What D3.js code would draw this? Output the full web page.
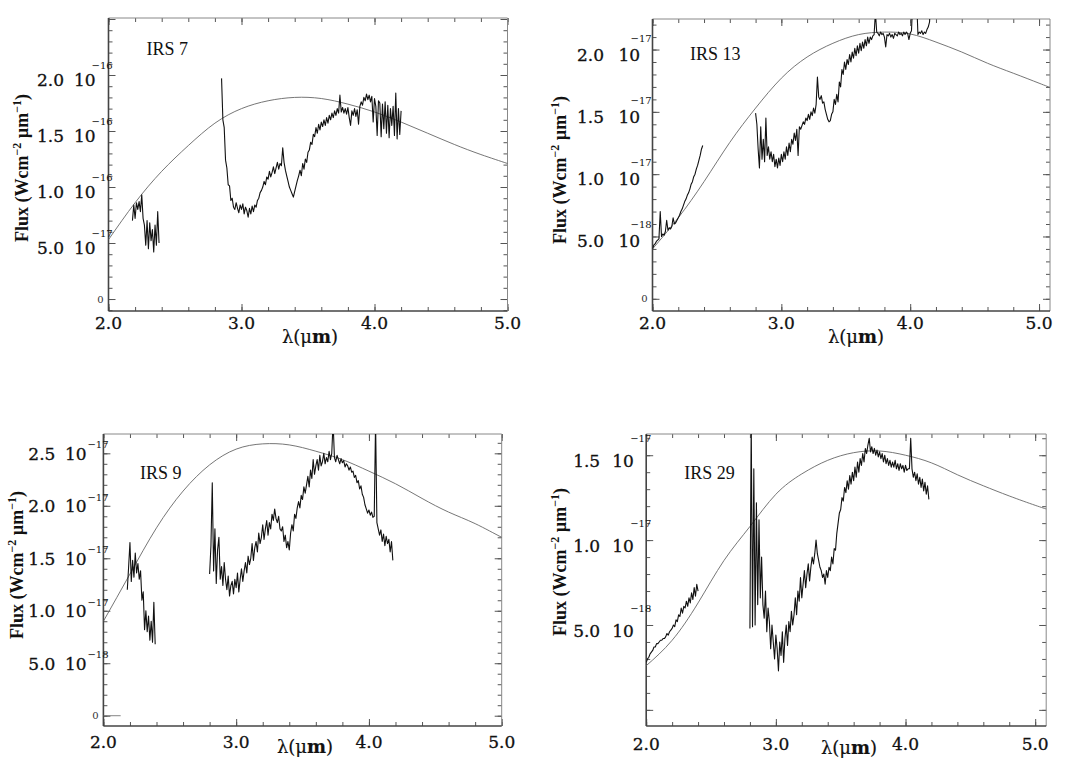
<!DOCTYPE html>
<html>
<head>
<meta charset="utf-8">
<script src="https://cdn.jsdelivr.net/npm/d3@7"></script>
<style>
  body { margin: 0; background: #fff; }
  svg { display: block; }
</style>
</head>
<body>
<svg id="chart" width="1079" height="774"></svg>
<script>
// ---- data (flux in units of 1e-16 for IRS 7, 1e-17 for the others) ----
const step = 0.01;
const modelWave = [2.0, 2.2, 2.4, 2.6, 2.8, 3.0, 3.2, 3.4, 3.6, 3.8, 4.0, 4.2, 4.4, 4.6, 4.8, 5.0, 5.1];

const irs7Model = [0.53, 0.86, 1.14, 1.37, 1.57, 1.70, 1.77, 1.80, 1.79, 1.74, 1.67, 1.58, 1.48, 1.38, 1.29, 1.21, 1.17];
const irs7AStart = 2.18;
const irs7A = [0.70, 0.84, 0.72, 0.86, 0.80, 0.87, 0.78, 0.93, 0.72, 0.66, 0.48, 0.70, 0.45, 0.68, 0.52, 0.62, 0.42, 0.66, 0.48, 0.78, 0.50];
const irs7BStart = 2.85;
const irs7B = [1.97, 1.60, 1.53, 1.24, 1.17, 1.02, 1.01, 0.88, 0.90, 0.82,
  0.80, 0.86, 0.81, 0.77, 0.84, 0.80, 0.85, 0.76, 0.82, 0.79,
  0.73, 0.81, 0.76, 0.83, 0.78, 0.84, 0.82, 0.88, 0.90, 0.95,
  0.97, 1.00, 1.05, 1.02, 1.09, 1.07, 1.14, 1.09, 1.13, 1.18,
  1.12, 1.17, 1.22, 1.16, 1.21, 1.19, 1.35, 1.22, 1.15, 1.10,
  1.05, 1.00, 0.97, 0.94, 0.91, 0.96, 1.01, 1.06, 1.10, 1.15,
  1.10, 1.21, 1.16, 1.25, 1.22, 1.31, 1.33, 1.40, 1.38, 1.47,
  1.45, 1.53, 1.48, 1.56, 1.51, 1.58, 1.54, 1.60, 1.55, 1.62,
  1.57, 1.64, 1.60, 1.66, 1.62, 1.68, 1.64, 1.70, 1.66, 1.82,
  1.67, 1.71, 1.66, 1.70, 1.65, 1.71, 1.62, 1.55, 1.68, 1.64,
  1.70, 1.63, 1.69, 1.56, 1.72, 1.76, 1.73, 1.80, 1.77, 1.83,
  1.78, 1.82, 1.76, 1.81, 1.58, 1.79, 1.72, 1.46, 1.77, 1.75,
  1.45, 1.74, 1.52, 1.76, 1.48, 1.73, 1.44, 1.70, 1.55, 1.72,
  1.46, 1.84, 1.43, 1.70, 1.47, 1.68];

const irs13Model = [0.40, 0.65, 0.94, 1.255, 1.53, 1.77, 1.94, 2.05, 2.12, 2.14, 2.125, 2.06, 1.98, 1.89, 1.81, 1.73, 1.69];
const irs13AStart = 2.00;
const irs13A = [0.40, 0.43, 0.44, 0.46, 0.47, 0.48, 0.70, 0.50, 0.52, 0.51,
  0.54, 0.63, 0.55, 0.57, 0.56, 0.58, 0.65, 0.60, 0.61, 0.63,
  0.65, 0.67, 0.70, 0.72, 0.75, 0.78, 0.80, 0.83, 0.85, 0.88,
  0.92, 0.94, 0.98, 1.00, 1.04, 1.07, 1.11, 1.15, 1.20, 1.23];
const irs13BStart = 2.80;
const irs13B = [1.49, 1.40, 1.20, 1.05, 1.38, 1.12, 1.28, 1.10, 1.45, 1.15,
  1.22, 1.12, 1.18, 1.10, 1.16, 1.06, 1.12, 1.05, 1.13, 1.07,
  1.16, 1.10, 1.18, 1.12, 1.22, 1.15, 1.25, 1.18, 1.28, 1.24,
  1.33, 1.27, 1.36, 1.15, 1.38, 1.36, 1.39, 1.42, 1.40, 1.45,
  1.43, 1.48, 1.44, 1.50, 1.47, 1.53, 1.49, 1.56, 1.78, 1.62,
  1.60, 1.63, 1.57, 1.58, 1.52, 1.48, 1.44, 1.42, 1.43, 1.48,
  1.50, 1.60, 1.56, 1.64, 1.58, 1.74, 1.70, 1.84, 1.80, 1.90,
  1.84, 1.92, 1.88, 1.96, 1.90, 1.98, 1.93, 2.01, 1.95, 2.03,
  1.97, 2.05, 1.99, 2.06, 2.01, 2.08, 2.03, 2.10, 2.05, 2.10,
  2.08, 2.11, 2.12, 2.30, 2.14, 2.13, 2.11, 2.14, 2.12, 2.13,
  2.10, 2.02, 2.12, 2.11, 2.13, 2.10, 2.12, 2.09, 2.13, 2.12,
  2.11, 2.14, 2.12, 2.13, 2.11, 2.14, 2.12, 2.14, 2.13, 2.08,
  2.13, 2.15, 2.40, 2.40, 2.40, 2.40, 2.12, 2.14, 2.13, 2.15,
  2.12, 2.14, 2.13, 2.16, 2.18, 2.22, 2.40];

const irs9Model = [0.90, 1.35, 1.79, 2.14, 2.39, 2.54, 2.59, 2.58, 2.52, 2.44, 2.33, 2.21, 2.07, 1.94, 1.83, 1.70, 1.65];
const irs9ZeroWave = [2.0, 2.13];
const irs9ZeroFlux = [0, 0];
const irs9AStart = 2.18;
const irs9A = [1.20, 1.42, 1.65, 1.28, 1.48, 1.32, 1.55, 1.36, 1.45, 1.30,
  1.38, 1.10, 1.18, 0.82, 1.00, 0.80, 0.95, 0.72, 0.90, 0.70,
  1.08, 0.68];
const irs9BStart = 2.80;
const irs9B = [1.35, 1.62, 2.22, 1.38, 1.78, 1.26, 1.58, 1.70, 1.30, 1.42,
  1.24, 1.46, 1.30, 1.20, 1.33, 1.14, 1.24, 1.28, 1.16, 1.30,
  1.22, 1.36, 1.18, 1.30, 1.40, 1.28, 1.38, 1.46, 1.36, 1.52,
  1.44, 1.50, 1.64, 1.48, 1.60, 1.66, 1.56, 1.74, 1.64, 1.70,
  1.82, 1.68, 1.78, 1.86, 1.72, 1.84, 1.78, 1.92, 1.86, 1.97,
  1.88, 1.84, 1.90, 1.78, 1.76, 1.80, 1.66, 1.72, 1.60, 1.66,
  1.58, 1.74, 1.82, 1.76, 1.92, 1.88, 1.98, 2.04, 1.98, 2.10,
  2.06, 2.18, 2.12, 2.20, 2.28, 2.18, 2.34, 2.26, 2.44, 2.30,
  2.38, 2.44, 2.34, 2.48, 2.38, 2.42, 2.50, 2.40, 2.46, 2.42,
  2.52, 2.44, 2.50, 2.80, 2.46, 2.42, 2.48, 2.44, 2.40, 2.45,
  2.41, 2.43, 2.37, 2.40, 2.38, 2.34, 2.37, 2.32, 2.33, 2.27,
  2.29, 2.22, 2.24, 2.16, 2.19, 2.11, 2.08, 2.01, 1.97, 1.93,
  1.96, 1.91, 1.94, 1.89, 1.90, 2.80, 1.84, 1.78, 1.72, 1.77,
  1.66, 1.73, 1.62, 1.71, 1.64, 1.68, 1.56, 1.66, 1.48];

const irs29Model = [0.26, 0.41, 0.63, 0.88, 1.08, 1.27, 1.39, 1.47, 1.515, 1.525, 1.50, 1.455, 1.385, 1.32, 1.26, 1.205, 1.18];
const irs29AStart = 2.00;
const irs29A = [0.28, 0.30, 0.31, 0.33, 0.34, 0.35, 0.37, 0.37, 0.39, 0.39,
  0.40, 0.41, 0.41, 0.42, 0.42, 0.43, 0.45, 0.44, 0.46, 0.47,
  0.48, 0.50, 0.49, 0.53, 0.52, 0.56, 0.55, 0.60, 0.57, 0.61,
  0.60, 0.64, 0.61, 0.66, 0.63, 0.69, 0.65, 0.72, 0.67, 0.74,
  0.70];
const irs29BStart = 2.80;
const irs29B = [0.48, 1.70, 0.49, 1.42, 0.50, 1.22, 0.62, 1.12, 0.66, 0.90,
  0.62, 0.54, 0.70, 0.46, 0.60, 0.52, 0.36, 0.50, 0.40, 0.30,
  0.44, 0.36, 0.23, 0.40, 0.32, 0.46, 0.28, 0.42, 0.50, 0.38,
  0.52, 0.46, 0.58, 0.50, 0.56, 0.66, 0.56, 0.70, 0.64, 0.78,
  0.66, 0.74, 0.82, 0.72, 0.80, 0.86, 0.76, 0.84, 0.90, 0.86,
  0.92, 1.00, 0.92, 0.88, 0.84, 0.82, 0.78, 0.80, 0.74, 0.82,
  0.78, 0.84, 0.82, 0.90, 0.86, 0.95, 0.94, 1.04, 1.10, 1.16,
  1.18, 1.25, 1.23, 1.31, 1.28, 1.35, 1.30, 1.38, 1.33, 1.40,
  1.35, 1.43, 1.37, 1.46, 1.40, 1.48, 1.44, 1.51, 1.46, 1.54,
  1.51, 1.56, 1.60, 1.52, 1.55, 1.51, 1.54, 1.50, 1.53, 1.49,
  1.52, 1.48, 1.51, 1.46, 1.50, 1.45, 1.48, 1.44, 1.47, 1.43,
  1.46, 1.43, 1.47, 1.42, 1.45, 1.41, 1.45, 1.42, 1.44, 1.40,
  1.44, 1.41, 1.42, 1.42, 1.60, 1.42, 1.37, 1.40, 1.35, 1.39,
  1.33, 1.37, 1.31, 1.36, 1.29, 1.34, 1.27, 1.32, 1.24];

// tick labels: [value, mantissa, exponent]
const irs7YLabels = [[0, "0", ""], [0.5, "5.0", "−17"], [1.0, "1.0", "−16"], [1.5, "1.5", "−16"], [2.0, "2.0", "−16"]];
const irs13YLabels = [[0, "0", ""], [0.5, "5.0", "−18"], [1.0, "1.0", "−17"], [1.5, "1.5", "−17"], [2.0, "2.0", "−17"]];
const irs9YLabels = [[0, "0", ""], [0.5, "5.0", "−18"], [1.0, "1.0", "−17"], [1.5, "1.5", "−17"], [2.0, "2.0", "−17"], [2.5, "2.5", "−17"]];
const irs29YLabels = [[0.5, "5.0", "−18"], [1.0, "1.0", "−17"], [1.5, "1.5", "−17"]];
const xLabels = [[2, "2.0"], [3, "3.0"], [4, "4.0"], [5, "5.0"]];

// ---- layout ----
const panels = [
  { name: "IRS 7", left: 108.5, right: 507.5, top: 18, bottom: 311, xMax: 5.0, yMin: -0.107, yMax: 2.509,
    model: irs7Model, segs: [[irs7AStart, irs7A], [irs7BStart, irs7B]], yLabels: irs7YLabels,
    nameDx: 38, nameDy: 37, mantDx: -44.5, tenDx: -34.5, labDy: 11, expDx: -17, expDy: -6,
    titleX: 27.5, titleY: 168, xTitleX: 310, xTitleY: 343, xLabY: 329 },
  { name: "IRS 13", left: 652.5, right: 1050, top: 19, bottom: 311, xMax: 5.085, yMin: -0.098, yMax: 2.245,
    model: irs13Model, segs: [[irs13AStart, irs13A], [irs13BStart, irs13B]], yLabels: irs13YLabels,
    nameDx: 37.5, nameDy: 41, mantDx: -48.5, tenDx: -34, labDy: 11, expDx: -22, expDy: -8,
    titleX: 566, titleY: 170, xTitleX: 856, xTitleY: 343, xLabY: 329 },
  { name: "IRS 9", left: 103.4, right: 501.7, top: 434, bottom: 726, xMax: 5.0, yMin: -0.098, yMax: 2.684,
    model: irs9Model, segs: [[irs9AStart, irs9A], [irs9BStart, irs9B]], yLabels: irs9YLabels,
    nameDx: 36.6, nameDy: 45, mantDx: -48, tenDx: -38.5, labDy: 6.5, expDx: -16, expDy: -5,
    titleX: 22.5, titleY: 565, xTitleX: 305, xTitleY: 753, xLabY: 748 },
  { name: "IRS 29", left: 646.2, right: 1046.2, top: 434, bottom: 726, xMax: 5.085, yMin: -0.095, yMax: 1.625,
    model: irs29Model, segs: [[irs29AStart, irs29A], [irs29BStart, irs29B]], yLabels: irs29YLabels,
    nameDx: 38, nameDy: 45, mantDx: -46, tenDx: -34, labDy: 12, expDx: -16, expDy: -13,
    titleX: 566, titleY: 562, xTitleX: 849, xTitleY: 754, xLabY: 750 }
];

const svg = d3.select("#chart");
const serif = "'DejaVu Serif', 'Liberation Serif', serif";
const times = "'Liberation Serif', 'Times New Roman', serif";

function label(g, x, y, txt, size) {
  return g.append("text").attr("x", x).attr("y", y)
    .attr("font-family", serif).attr("font-size", size)
    .attr("fill", "#111").attr("stroke", "#111").attr("stroke-width", 0.3)
    .text(txt);
}

function drawPanel(p, i) {
  const x = d3.scaleLinear().domain([2, p.xMax]).range([p.left, p.right]);
  const y = d3.scaleLinear().domain([p.yMin, p.yMax]).range([p.bottom, p.top]);
  const g = svg.append("g");

  const clipId = "clip" + i;
  svg.append("clipPath").attr("id", clipId).append("rect")
    .attr("x", p.left).attr("y", p.top)
    .attr("width", p.right - p.left).attr("height", p.bottom - p.top);

  const xMinor = d3.range(2, p.xMax + 1e-6, 0.2);
  const xMajor = [2, 3, 4, 5];
  const yMinor = d3.range(0, p.yMax, 0.1).concat(d3.range(-0.1, p.yMin, -0.1)).filter(v => v >= p.yMin && v <= p.yMax);
  const yMajor = d3.range(0, p.yMax, 0.5);

  function ticks(axis, tr, len) {
    const a = g.append("g").attr("transform", tr)
      .call(axis.tickSize(-len).tickFormat(""));
    a.select(".domain").remove();
    a.selectAll("line").attr("stroke", "#555").attr("stroke-width", 1);
  }
  ticks(d3.axisBottom(x).tickValues(xMinor), `translate(0,${p.bottom})`, 4);
  ticks(d3.axisBottom(x).tickValues(xMajor), `translate(0,${p.bottom})`, 7);
  ticks(d3.axisTop(x).tickValues(xMinor), `translate(0,${p.top})`, 4);
  ticks(d3.axisTop(x).tickValues(xMajor), `translate(0,${p.top})`, 7);
  ticks(d3.axisLeft(y).tickValues(yMinor), `translate(${p.left},0)`, 4);
  ticks(d3.axisLeft(y).tickValues(yMajor), `translate(${p.left},0)`, 7);
  ticks(d3.axisRight(y).tickValues(yMinor), `translate(${p.right},0)`, 4);
  ticks(d3.axisRight(y).tickValues(yMajor), `translate(${p.right},0)`, 7);

  // frame
  g.append("line").attr("x1", p.left).attr("x2", p.right).attr("y1", p.top).attr("y2", p.top)
    .attr("stroke", "#888").attr("stroke-width", 1);
  g.append("line").attr("x1", p.right).attr("x2", p.right).attr("y1", p.top).attr("y2", p.bottom)
    .attr("stroke", "#888").attr("stroke-width", 1);
  g.append("line").attr("x1", p.left).attr("x2", p.left).attr("y1", p.top).attr("y2", p.bottom)
    .attr("stroke", "#444").attr("stroke-width", 1.6);
  g.append("line").attr("x1", p.left).attr("x2", p.right).attr("y1", p.bottom).attr("y2", p.bottom)
    .attr("stroke", "#444").attr("stroke-width", 1.6);

  const plot = g.append("g").attr("clip-path", `url(#${clipId})`);

  // model curve
  const modelLine = d3.line().x(d => x(d[0])).y(d => y(d[1])).curve(d3.curveNatural);
  plot.append("path").datum(modelWave.map((w, k) => [w, p.model[k]]))
    .attr("d", modelLine).attr("fill", "none").attr("stroke", "#666").attr("stroke-width", 0.9);

  // spectra
  const dataLine = d3.line().x(d => x(d[0])).y(d => y(d[1]));
  p.segs.forEach(([start, flux]) => {
    plot.append("path").datum(flux.map((f, k) => [start + k * step, f]))
      .attr("d", dataLine).attr("fill", "none").attr("stroke", "#111")
      .attr("stroke-width", 1.1).attr("stroke-linejoin", "round");
  });
  if (p.name === "IRS 9") {
    plot.append("path").datum(irs9ZeroWave.map((w, k) => [w, irs9ZeroFlux[k]]))
      .attr("d", dataLine).attr("fill", "none").attr("stroke", "#777").attr("stroke-width", 0.9);
  }

  // object name
  g.append("text").attr("x", p.left + p.nameDx).attr("y", p.top + p.nameDy)
    .attr("font-family", times).attr("font-size", 18).attr("fill", "#111").text(p.name);

  // x tick labels
  xLabels.forEach(([v, t]) => {
    label(g, x(v), p.xLabY, t, 17).attr("text-anchor", "middle");
  });

  // y tick labels
  p.yLabels.forEach(([v, m, e]) => {
    const ty = y(v);
    if (e === "") {
      g.append("text").attr("x", p.left - 8).attr("y", ty + 3.5).attr("text-anchor", "middle")
        .attr("font-family", serif).attr("font-size", 10).attr("fill", "#333").text(m);
      return;
    }
    label(g, p.left + p.mantDx, ty + p.labDy, m, 17).attr("text-anchor", "end");
    label(g, p.left + p.tenDx, ty + p.labDy, "10", 17);
    g.append("text").attr("x", p.left + p.expDx).attr("y", ty + p.expDy)
      .attr("font-family", serif).attr("font-size", 10).attr("fill", "#111").text(e);
  });

  // y title
  const yt = g.append("text").attr("transform", `translate(${p.titleX},${p.titleY}) rotate(-90)`)
    .attr("text-anchor", "middle").attr("font-family", times).attr("font-weight", "bold")
    .attr("font-size", 18).attr("fill", "#111");
  yt.append("tspan").text("Flux (Wcm");
  yt.append("tspan").attr("dy", -7).attr("font-size", 12).text("−2");
  yt.append("tspan").attr("dy", 7).text(" µm");
  yt.append("tspan").attr("dy", -7).attr("font-size", 12).text("−1");
  yt.append("tspan").attr("dy", 7).text(")");

  // x title
  const xt = g.append("text").attr("x", p.xTitleX).attr("y", p.xTitleY).attr("text-anchor", "middle")
    .attr("font-family", serif).attr("font-size", 18).attr("fill", "#111")
    .attr("stroke", "#111").attr("stroke-width", 0.2);
  xt.append("tspan").text("λ(μ");
  xt.append("tspan").attr("font-weight", "bold").text("m");
  xt.append("tspan").text(")");
}

panels.forEach(drawPanel);
</script>
</body>
</html>
